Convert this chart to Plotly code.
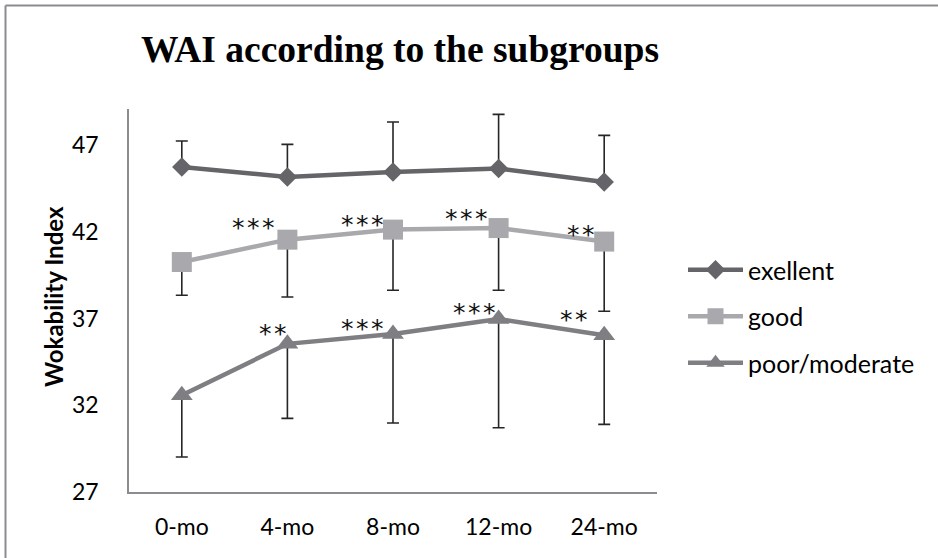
import plotly.graph_objects as go

# ---------------- data ----------------
categories = ["0-mo", "4-mo", "8-mo", "12-mo", "24-mo"]
series_names = ["exellent", "good", "poor/moderate"]

excellent = [45.75, 45.18, 45.47, 45.66, 44.89]
excellent_err_plus = [1.50, 1.88, 2.88, 3.13, 2.69]

good = [40.27, 41.56, 42.14, 42.23, 41.45]
good_err_minus = [1.92, 3.31, 3.50, 3.59, 4.02]

poor = [32.58, 35.55, 36.12, 36.98, 36.04]
poor_err_minus = [3.56, 4.30, 5.14, 6.27, 5.14]

good_sig = ["", "***", "***", "***", "**"]
poor_sig = ["", "**", "***", "***", "**"]

y_ticks = [27, 32, 37, 42, 47]
title_text = "WAI according to the subgroups"
y_title = "Wokability Index"

# ---------------- layout constants ----------------
W, H = 938, 558
L, R, T, B = 129, 281, 109, 66
PW, PH = W - L - R, H - T - B

def px_x(px):
    return (px - L) / PW

def px_y(py):
    return (H - B - py) / PH

FONT = "Lato"
C_EXC = "#646469"
C_GOOD = "#a9a9ad"
C_POOR = "#7e7e83"
C_ERR = "#262626"

x_idx = list(range(len(categories)))

fig = go.Figure()

fig.add_trace(go.Scatter(
    x=x_idx, y=excellent, name=series_names[0], mode="lines+markers",
    line=dict(color=C_EXC, width=4.5),
    marker=dict(symbol="diamond", size=15, color=C_EXC),
    error_y=dict(type="data", symmetric=False, array=excellent_err_plus,
                 arrayminus=[0] * len(excellent), color=C_ERR, thickness=1.6, width=6),
    legendgroup="a",
))
fig.add_trace(go.Scatter(
    x=x_idx, y=good, name=series_names[1], mode="lines+markers",
    line=dict(color=C_GOOD, width=4.5),
    marker=dict(symbol="square", size=20, color=C_GOOD),
    error_y=dict(type="data", symmetric=False, array=[0] * len(good),
                 arrayminus=good_err_minus, color=C_ERR, thickness=1.6, width=6),
    legendgroup="b",
))
fig.add_trace(go.Scatter(
    x=x_idx, y=poor, name=series_names[2], mode="lines+markers",
    line=dict(color=C_POOR, width=4.5),
    marker=dict(symbol="triangle-up", size=19, color=C_POOR),
    error_y=dict(type="data", symmetric=False, array=[0] * len(poor),
                 arrayminus=poor_err_minus, color=C_ERR, thickness=1.6, width=6),
    legendgroup="c",
))

def star_text(s):
    return "\u200a".join(s)

annotations = []
STAR_FONT = dict(family="DejaVu Sans", size=25, color="#111111")
good_dx = [0, -0.33, -0.29, -0.31, -0.22]
good_dy = [0, 1.02, 0.65, 0.90, 0.78]
poor_dx = [0, -0.14, -0.29, -0.23, -0.29]
poor_dy = [0, 0.95, 0.64, 0.75, 1.26]
for i, s in enumerate(good_sig):
    if s:
        annotations.append(dict(x=i + good_dx[i], y=good[i] + good_dy[i], text=star_text(s),
                                showarrow=False, xref="x", yref="y",
                                font=STAR_FONT, yshift=-6))
for i, s in enumerate(poor_sig):
    if s:
        annotations.append(dict(x=i + poor_dx[i], y=poor[i] + poor_dy[i], text=star_text(s),
                                showarrow=False, xref="x", yref="y",
                                font=STAR_FONT, yshift=-6))

annotations.append(dict(x=px_x(53), y=px_y(297), xref="paper", yref="paper",
                        text="<b>" + y_title + "</b>", textangle=-90, showarrow=False,
                        font=dict(family=FONT, size=24, color="#000000"),
                        xanchor="center", yanchor="middle"))

shapes = [
    dict(type="line", xref="paper", yref="paper", x0=px_x(5.5), x1=px_x(W + 5), y0=px_y(5.5), y1=px_y(5.5),
         line=dict(color="#8c8c90", width=2)),
    dict(type="line", xref="paper", yref="paper", x0=px_x(5.5), x1=px_x(5.5), y0=px_y(5.5), y1=px_y(H + 5),
         line=dict(color="#8c8c90", width=2)),
]

fig.update_layout(
    width=W, height=H,
    margin=dict(l=L, r=R, t=T, b=B, autoexpand=False),
    paper_bgcolor="white", plot_bgcolor="white",
    title=dict(text="<b>" + title_text + "</b>", x=400 / W, y=1 - 49 / H,
               xanchor="center", yanchor="middle",
               font=dict(family="Liberation Serif", size=37.5, color="#000000")),
    xaxis=dict(range=[-0.5, len(categories) - 0.5], tickmode="array", tickvals=x_idx,
               ticktext=categories, showgrid=False, zeroline=False, showline=True,
               linecolor="#8c8c90", linewidth=1.5, ticks="", ticklabelstandoff=14,
               tickfont=dict(family=FONT, size=23, color="#000000")),
    yaxis=dict(range=[27, 49.1], tickmode="array", tickvals=y_ticks,
               showgrid=False, zeroline=False, showline=True,
               linecolor="#8c8c90", linewidth=1.5, ticks="", ticklabelstandoff=24,
               tickfont=dict(family=FONT, size=23, color="#000000")),
    legend=dict(x=px_x(683), y=px_y(247), xanchor="left", yanchor="top",
                traceorder="grouped", tracegroupgap=11, itemwidth=55,
                font=dict(family=FONT, size=25, color="#000000"),
                bgcolor="rgba(0,0,0,0)"),
    annotations=annotations,
    shapes=shapes,
    showlegend=True,
)

fig.write_html("out.html",
               config={"displayModeBar": False},
               post_script="document.body.style.margin='0';document.body.style.padding='0';document.body.style.overflow='hidden';")
